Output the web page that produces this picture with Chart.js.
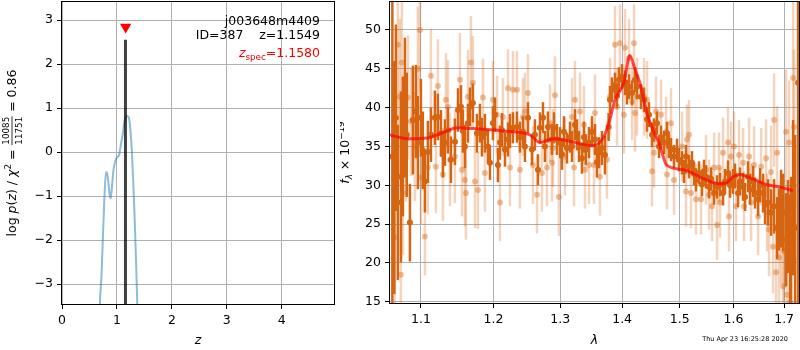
<!DOCTYPE html>
<html>
<head>
<meta charset="utf-8">
<script src="https://cdn.jsdelivr.net/npm/chart.js@4.4.1/dist/chart.umd.min.js"></script>
<style>
  html, body { margin: 0; padding: 0; background: #fff; }
  #wrap { position: relative; width: 800px; height: 350px; }
  canvas { position: absolute; top: 0; }
  #pz { left: 0; }
  #sp { left: 340px; }
</style>
</head>
<body>
<div id="wrap">
  <canvas id="pz" width="340" height="350" style="width:340px;height:350px"></canvas>
  <canvas id="sp" width="460" height="350" style="width:460px;height:350px"></canvas>
</div>
<script>
// ---- p(z) panel ----
var zGrid = [0.66, 0.69, 0.72, 0.745, 0.77, 0.80, 0.82, 0.84, 0.865, 0.885, 0.905, 0.93, 0.96, 0.99,
             1.02, 1.04, 1.06, 1.085, 1.11, 1.13, 1.155, 1.18, 1.20, 1.22, 1.245, 1.27, 1.29, 1.31,
             1.33, 1.345, 1.37, 1.40];
var logPz = [-5.0, -3.44, -2.76, -1.9, -1.09, -0.45, -0.48, -0.64, -0.95, -1.05, -0.85, -0.48, -0.25, -0.14,
             -0.10, -0.07, 0.08, 0.27, 0.45, 0.65, 0.78, 0.82, 0.81, 0.77, 0.50, 0.05, -0.50, -1.09,
             -1.8, -2.38, -3.44, -5.0];
var zBest = 1.1549;
var zBestTop = 2.55;
var zSpec = 1.1580;
var zSpecMarkY = 2.84;
var zTicks = [0, 1, 2, 3, 4];
var zTickLabels = ['0', '1', '2', '3', '4'];
var pzTicks = [-3, -2, -1, 0, 1, 2, 3];
var pzTickLabels = ['\u22123', '\u22122', '\u22121', '0', '1', '2', '3'];

// ---- spectrum panel (flux in 1e-19 units) ----
var waveDark = [
  1.063, 1.0655, 1.0675, 1.070, 1.074, 1.0765, 1.0791, 1.0815, 1.0856, 1.0895,
  1.0934, 1.096, 1.100, 1.1025, 1.1053, 1.1093, 1.1133, 1.1186, 1.1226, 1.1267,
  1.1294, 1.1321, 1.1362, 1.1403, 1.1458, 1.150, 1.1541, 1.1568, 1.1596, 1.1638,
  1.1666, 1.1707, 1.1764, 1.1806, 1.1835, 1.1877, 1.192, 1.1949, 1.1992, 1.2021,
  1.2064, 1.2093, 1.2122, 1.2166, 1.221, 1.2239, 1.2283, 1.2342, 1.2386, 1.2431,
  1.2461, 1.2506, 1.2566, 1.2611, 1.2657, 1.2687, 1.2733, 1.2763, 1.2809, 1.2871,
  1.2902, 1.2948, 1.2995, 1.3026, 1.3057, 1.3105, 1.3152, 1.3184, 1.3231, 1.3263,
  1.3294, 1.3342, 1.3374, 1.3406, 1.3455, 1.3503, 1.3552, 1.3584, 1.3617, 1.3666,
  1.3715,
  1.3775, 1.3798, 1.3831, 1.3881, 1.3914, 1.3947, 1.3998, 1.4048, 1.4082, 1.4116,
  1.4167, 1.4218, 1.4252, 1.432, 1.4372, 1.4424, 1.4458, 1.4511, 1.4545, 1.4598,
  1.4633, 1.4668, 1.4721, 1.4774, 1.4809, 1.4845, 1.4898, 1.4952, 1.4988, 1.5042,
  1.5078, 1.5114, 1.5169, 1.5223, 1.526, 1.5296, 1.5351, 1.5407, 1.5444, 1.5481,
  1.5537, 1.5575, 1.5631, 1.5687, 1.5743, 1.58, 1.5838, 1.5895, 1.5933, 1.5991,
  1.6029, 1.6087, 1.6125, 1.6183, 1.6222, 1.6281, 1.632, 1.6379, 1.6418, 1.6478,
  1.6517, 1.6577, 1.6616, 1.6676, 1.6736, 1.6796, 1.6857, 1.6897, 1.6938, 1.6979,
  1.704, 1.7081, 1.7122, 1.7143, 1.7184, 1.7225, 1.7287
];
var fluxDark = [
  33.7, 31.0, 38.7, 27.8, 31.1, 35.0, 40.0, 36.5, 25.2, 38.4,
  39.5, 35.5, 38.7, 34.5, 30.5, 34.3, 36.5, 38.7, 38.8, 36.7,
  34.0, 35.5, 37.1, 33.3, 35.6, 39.7, 40.1, 37.0, 35.0, 38.0,
  40.1, 40.6, 36.7, 38.0, 36.2, 36.7, 35.0, 32.9, 38.0, 39.1,
  32.6, 35.5, 37.1, 34.6, 35.9, 37.0, 37.4, 37.5, 36.2, 36.9,
  35.0, 38.7, 34.6, 36.5, 32.0, 37.4, 38.7, 35.0, 37.5, 35.9,
  37.4, 35.9, 35.5, 34.0, 36.9, 34.8, 36.2, 35.0, 37.8, 36.5,
  35.0, 33.5, 36.2, 34.6, 35.5, 36.9, 35.9, 33.0, 34.2, 34.8,
  33.9,
  37.5, 41.0, 42.3, 42.9, 41.5, 43.6, 44.0, 43.2, 42.0, 42.7,
  41.9, 43.6, 42.7, 41.4, 41.0, 38.5, 39.1, 36.5, 37.1, 38.0,
  35.0, 36.2, 35.5, 36.7, 35.0, 34.6, 33.7, 34.5, 33.3, 32.9,
  31.8, 33.7, 32.4, 32.9, 31.5, 30.7, 31.6, 30.1, 31.8, 31.1,
  29.8, 30.8, 29.0, 29.8, 30.1, 29.0, 30.5, 31.6, 30.0, 30.5,
  31.2, 29.0, 30.5, 29.8, 28.5, 31.1, 29.5, 30.5, 29.0, 28.2,
  30.0, 29.0, 27.5, 27.8, 26.5, 27.3, 24.5, 25.6, 27.0, 26.5,
  23.0, 24.7, 20.8, 22.1, 28.4, 24.5, 43.2
];
var errDark = [
  30, 15, 12, 10, 11, 9, 9, 8, 5, 7,
  6, 6, 5, 5, 4, 4, 3.5, 3.5, 3, 3,
  3, 3, 3, 3, 3, 2.8, 2.8, 2.8, 2.8, 2.5,
  2.5, 2.5, 2.5, 2.5, 2.5, 2.5, 2.2, 2.2, 2.2, 2.2,
  2.2, 2.2, 2.2, 2.2, 2.2, 2.2, 2, 2, 2, 2,
  2, 2, 2, 2, 2, 2, 2, 2, 2, 2,
  2, 2, 2, 2, 2, 2, 2, 2, 2, 2,
  2, 2, 2, 2, 2, 2, 2, 2, 2, 2.2,
  2.5,
  1.8, 1.8, 1.6, 1.6, 1.6, 1.6, 1.6, 1.6, 1.6, 1.6,
  1.6, 1.6, 1.6, 1.6, 1.6, 1.6, 1.6, 1.6, 1.5, 1.5,
  1.5, 1.5, 1.5, 1.5, 1.5, 1.5, 1.5, 1.5, 1.5, 1.5,
  1.5, 1.5, 1.5, 1.5, 1.5, 1.5, 1.5, 1.5, 1.5, 1.5,
  1.5, 1.5, 1.5, 1.5, 1.5, 1.6, 1.6, 1.6, 1.6, 1.6,
  1.6, 1.8, 1.8, 1.8, 1.8, 2, 2, 2, 2, 2.2,
  2.2, 2.5, 2.5, 3, 3, 3.5, 4, 4, 5, 5,
  6, 6, 8, 9, 10, 12, 40
];

var waveLight = [
  1.0662, 1.070, 1.0726, 1.0739, 1.0752, 1.0765, 1.0804, 1.083, 1.0869, 1.0921,
  1.096, 1.0987, 1.100, 1.1053, 1.1093, 1.1133, 1.1199, 1.1226, 1.1294, 1.1335,
  1.1362, 1.1389, 1.1458, 1.1527, 1.1555, 1.1596, 1.161, 1.1638, 1.168, 1.1707,
  1.1736, 1.1778, 1.1849, 1.1877, 1.1992, 1.205, 1.2093, 1.2137, 1.221, 1.2239,
  1.2283, 1.2342, 1.2386, 1.2431, 1.2461, 1.2506, 1.2581, 1.2642, 1.2718, 1.2794,
  1.284, 1.2871, 1.2886, 1.2917, 1.2979, 1.3073, 1.3184, 1.3215, 1.3231, 1.331,
  1.3374, 1.339, 1.3455, 1.3536, 1.3552, 1.3633, 1.3748, 1.3798, 1.3881, 1.3914,
  1.3964, 1.4031, 1.4048, 1.4116, 1.4167, 1.4201, 1.4218, 1.4252, 1.4372, 1.4424,
  1.4511, 1.4545, 1.458, 1.4668, 1.4756, 1.4774, 1.4845, 1.4898, 1.5042, 1.5114,
  1.5132, 1.5169, 1.5205, 1.5296, 1.5388, 1.5481, 1.5537, 1.5593, 1.5631, 1.5687,
  1.5724, 1.5743, 1.58, 1.5895, 1.5914, 1.5952, 1.601, 1.6048, 1.6106, 1.6183,
  1.6203, 1.6301, 1.634, 1.6399, 1.6478, 1.6537, 1.6636, 1.6656, 1.6696, 1.6736,
  1.6776, 1.6796, 1.6837, 1.6857, 1.6897, 1.6938, 1.6979, 1.6999, 1.704, 1.706,
  1.7101, 1.7122, 1.7184, 1.7204
];
var fluxLight = [
  23.3, 48.1, 41.4, 18.5, 45.8, 29.0, 35.9, 41.3, 38.2, 35.0,
  45.0, 50.0, 31.0, 23.4, 32.3, 44.1, 32.4, 42.8, 31.4, 41.0,
  40.1, 33.3, 33.7, 43.6, 32.0, 30.7, 29.0, 41.4, 45.8, 43.2,
  30.5, 29.4, 41.3, 31.6, 41.0, 39.1, 27.8, 38.8, 42.5, 32.3,
  42.3, 42.3, 32.0, 38.8, 39.5, 41.9, 32.6, 28.8, 31.6, 32.3,
  38.0, 32.9, 34.8, 41.6, 28.5, 33.7, 38.8, 32.3, 41.0, 39.5,
  37.8, 32.0, 32.6, 32.6, 39.3, 31.1, 33.3, 41.4, 48.1, 40.1,
  48.3, 39.1, 47.7, 46.4, 40.8, 48.3, 39.3, 41.4, 41.4, 41.0,
  31.8, 34.2, 39.5, 39.1, 36.9, 31.4, 38.0, 30.7, 35.0, 29.2,
  35.9, 36.5, 29.0, 28.2, 28.2, 32.0, 28.8, 27.3, 32.3, 24.9,
  32.3, 27.8, 34.2, 35.5, 26.0, 33.7, 35.0, 27.3, 33.9, 32.9,
  27.3, 33.7, 27.8, 32.6, 26.0, 32.4, 33.5, 26.5, 24.3, 31.7,
  22.1, 38.4, 18.8, 34.2, 20.7, 24.3, 17.0, 21.5, 36.9, 15.9,
  35.5, 14.9, 43.8, 37.5
];
var errLight = [
  10, 12, 10, 8, 10, 8, 8, 8, 7, 7,
  8, 8, 6, 5, 6, 6, 6, 6, 6, 6,
  6, 6, 6, 6, 6, 6, 6, 6, 6, 6,
  6, 5, 5, 5, 5, 5, 5, 5, 5, 5,
  5, 5, 5, 5, 5, 5, 5, 5, 5, 5,
  5, 5, 5, 5, 5, 5, 5, 5, 5, 5,
  5, 5, 5, 5, 5, 5, 5, 5, 5, 5,
  5, 5, 5, 5, 5, 5, 5, 5, 5, 5,
  4.5, 4.5, 4.5, 4.5, 4.5, 4.5, 4.5, 4.5, 4.5, 4.5,
  4.5, 4.5, 4.5, 4.5, 4.5, 4.5, 4.5, 4.5, 4.5, 4.5,
  4.5, 4.5, 4.5, 4.5, 4.5, 4.5, 4.5, 4.5, 4.5, 4.5,
  4.5, 5, 5, 5, 5, 5, 5, 5, 6, 6,
  6, 6, 6, 6, 7, 7, 7, 7, 8, 8,
  8, 8, 10, 10
];

var waveModel = [1.059, 1.083, 1.109, 1.127, 1.150, 1.171, 1.214, 1.2535, 1.2687, 1.284,
                 1.292, 1.318, 1.350, 1.367, 1.378, 1.388, 1.403, 1.413, 1.422, 1.432,
                 1.442, 1.4545, 1.463, 1.477, 1.508, 1.539, 1.572, 1.586, 1.599, 1.611,
                 1.638, 1.664, 1.690, 1.718];
var fluxModel = [36.5, 36.0, 36.1, 36.7, 37.4, 37.3, 37.0, 36.5, 35.5, 35.9,
                 36.0, 35.6, 35.1, 35.9, 38.0, 41.0, 43.2, 46.7, 44.9, 42.7,
                 39.3, 36.8, 35.5, 32.6, 32.0, 31.0, 30.2, 30.3, 31.1, 31.4,
                 30.8, 30.1, 29.8, 29.3];

var waveTicks = [1.1, 1.2, 1.3, 1.4, 1.5, 1.6, 1.7];
var waveTickLabels = ['1.1', '1.2', '1.3', '1.4', '1.5', '1.6', '1.7'];
var fluxTicks = [15, 20, 25, 30, 35, 40, 45, 50];
var fluxTickLabels = ['15', '20', '25', '30', '35', '40', '45', '50'];

// ---- shared styling ----
var FAM = '"DejaVu Sans"';
var F_MAIN = '12.5px ' + FAM;
var F_IT = 'italic 12.5px ' + FAM;
var F_SMALL = '8.75px ' + FAM;
var F_SMALL_IT = 'italic 8.75px ' + FAM;
var GRID = '#b0b0b0';
var ORANGE = 'rgb(214,100,16)';

Chart.defaults.font.family = 'DejaVu Sans';
Chart.defaults.font.size = 12.5;
Chart.defaults.color = '#000';

function zipPoints(xs, ys) {
    return xs.map(function (x, i) { return { x: x, y: ys[i] }; });
}

function fixedTicks(values) {
    return function (scale) {
        scale.ticks = values.map(function (v) { return { value: v }; });
    };
}

function axis(opts) {
    return {
        type: opts.type || 'linear',
        min: opts.min, max: opts.max,
        bounds: 'data',
        afterBuildTicks: fixedTicks(opts.ticks),
        afterFit: function (scale) {
            if (opts.size.w) scale.width = opts.size.w;
            if (opts.size.h) scale.height = opts.size.h;
            // keep the plot box where it is: no room reserved for edge labels
            scale.paddingTop = 0; scale.paddingBottom = 0;
            scale.paddingLeft = 0; scale.paddingRight = 0;
        },
        ticks: {
            autoSkip: false, maxRotation: 0, padding: 4, color: '#000',
            font: { size: 12.5 },
            callback: function (v, i) { return opts.labels[i]; }
        },
        grid: { color: GRID, lineWidth: 1, tickColor: '#000', tickLength: 5, tickWidth: 1 },
        border: { display: false }
    };
}

// text made of runs of different fonts / offsets (mathtext-like labels)
function runWidth(ctx, r) {
    ctx.font = r.f;
    if (r.frac) {
        return Math.max(ctx.measureText(r.frac[0]).width, ctx.measureText(r.frac[1]).width) + 2;
    }
    return ctx.measureText(r.t).width;
}

function runsWidth(ctx, runs) {
    return runs.reduce(function (s, r) { return s + runWidth(ctx, r); }, 0);
}

function drawRuns(ctx, runs, x0, y0, rotate, align) {
    ctx.save();
    ctx.translate(x0, y0);
    if (rotate) ctx.rotate(-Math.PI / 2);
    var total = runsWidth(ctx, runs);
    var x = align === 'right' ? -total : -total / 2;
    ctx.textBaseline = 'alphabetic';
    runs.forEach(function (r) {
        var w = runWidth(ctx, r);
        ctx.font = r.f;
        ctx.fillStyle = r.c || '#000';
        if (r.frac) {
            ctx.textAlign = 'center';
            ctx.fillText(r.frac[0], x + w / 2, -7.5);
            ctx.fillText(r.frac[1], x + w / 2, 5.5);
            ctx.fillRect(x + 0.5, -4.4, w - 1, 0.8);
        } else {
            ctx.textAlign = 'left';
            ctx.fillText(r.t, x, r.dy || 0);
        }
        x += w;
    });
    ctx.restore();
}

// black box round the plot area, on top of everything
var frame = {
    id: 'frame',
    afterDatasetsDraw: function (chart) {
        var a = chart.chartArea, ctx = chart.ctx;
        ctx.save();
        ctx.strokeStyle = '#000';
        ctx.lineWidth = 1;
        ctx.strokeRect(Math.round(a.left) - 0.5, Math.round(a.top) - 0.5,
                       Math.round(a.right - a.left) + 1, Math.round(a.bottom - a.top) + 1);
        ctx.restore();
    }
};

// vertical error bars drawn just before each dataset's own points
var errorBars = {
    id: 'errorBars',
    beforeDatasetDraw: function (chart, args) {
        var ds = chart.data.datasets[args.index];
        if (!ds.errors) return;
        var ctx = chart.ctx, a = chart.chartArea;
        var xs = chart.scales.x, ys = chart.scales.y;
        ctx.save();
        ctx.beginPath();
        ctx.rect(a.left, a.top, a.right - a.left, a.bottom - a.top);
        ctx.clip();
        ctx.strokeStyle = ds.barColor;
        ctx.lineWidth = ds.barWidth;
        ds.data.forEach(function (p, i) {
            var px = xs.getPixelForValue(p.x);
            ctx.beginPath();
            ctx.moveTo(px, ys.getPixelForValue(p.y - ds.errors[i]));
            ctx.lineTo(px, ys.getPixelForValue(p.y + ds.errors[i]));
            ctx.stroke();
        });
        ctx.restore();
    }
};

var pzLabels = {
    id: 'pzLabels',
    afterDraw: function (chart) {
        var ctx = chart.ctx, a = chart.chartArea;
        drawRuns(ctx, [
            { t: 'log ', f: F_MAIN }, { t: 'p', f: F_IT }, { t: '(', f: F_MAIN }, { t: 'z', f: F_IT },
            { t: ') / ', f: F_MAIN }, { t: '\u03c7', f: F_IT }, { t: '2', f: F_SMALL, dy: -5 },
            { t: ' = ', f: F_MAIN }, { frac: ['10085', '11751'], f: F_SMALL }, { t: ' = 0.86', f: F_MAIN }
        ], 16, (a.top + a.bottom) / 2, true);
        drawRuns(ctx, [{ t: 'z', f: F_IT }], (a.left + a.right) / 2, 344, false);
        drawRuns(ctx, [{ t: 'j003648m4409', f: F_MAIN }], 320, 25, false, 'right');
        drawRuns(ctx, [{ t: 'ID=387    z=1.1549', f: F_MAIN }], 320, 39, false, 'right');
        drawRuns(ctx, [
            { t: 'z', f: F_IT, c: '#ff0000' }, { t: 'spec', f: F_SMALL, dy: 3, c: '#ff0000' },
            { t: '=1.1580', f: F_MAIN, c: '#ff0000' }
        ], 320, 57, false, 'right');
    }
};

var spLabels = {
    id: 'spLabels',
    afterDraw: function (chart) {
        var ctx = chart.ctx, a = chart.chartArea;
        drawRuns(ctx, [
            { t: 'f', f: F_IT }, { t: '\u03bb', f: F_SMALL_IT, dy: 3 },
            { t: ' \u00d7 10', f: F_MAIN }, { t: '\u221219', f: F_SMALL, dy: -5 }
        ], 9, (a.top + a.bottom) / 2, true);
        drawRuns(ctx, [{ t: '\u03bb', f: F_IT }], (a.left + a.right) / 2, 344, false);
        ctx.save();
        ctx.font = '6.5px ' + FAM;
        ctx.fillStyle = '#000';
        ctx.textAlign = 'right';
        ctx.fillText('Thu Apr 23 16:25:28 2020', 448, 341);
        ctx.restore();
    }
};

new Chart(document.getElementById('pz'), {
    type: 'scatter',
    data: {
        datasets: [
            { data: [{ x: zSpec, y: zSpecMarkY }], pointStyle: 'triangle', rotation: 180,
              pointRadius: 6.5, backgroundColor: '#ff0000', borderWidth: 0, order: 0 },
            { data: [{ x: zBest, y: -4 }, { x: zBest, y: zBestTop }], showLine: true,
              borderColor: 'rgba(0,0,0,0.75)', borderWidth: 3, pointRadius: 0, clip: 0, order: 1 },
            { data: zipPoints(zGrid, logPz), showLine: true, borderColor: 'rgba(31,119,180,0.5)',
              borderWidth: 2, pointRadius: 0, cubicInterpolationMode: 'monotone', clip: 0, order: 2 }
        ]
    },
    options: {
        responsive: false, animation: false,
        layout: { autoPadding: false, padding: { left: 0, right: 6, top: 2, bottom: 0 } },
        plugins: { legend: { display: false }, tooltip: { enabled: false } },
        scales: {
            x: axis({ min: 0, max: 4.95, ticks: zTicks, labels: zTickLabels, size: { h: 46 } }),
            y: axis({ min: -3.45, max: 3.41, ticks: pzTicks, labels: pzTickLabels, size: { w: 62 } })
        }
    },
    plugins: [frame, pzLabels]
});

new Chart(document.getElementById('sp'), {
    type: 'scatter',
    data: {
        datasets: [
            { type: 'line', data: zipPoints(waveModel, fluxModel), borderColor: 'rgba(255,0,0,0.7)',
              borderWidth: 3, pointRadius: 0, cubicInterpolationMode: 'monotone', clip: 0, order: 0 },
            { data: zipPoints(waveDark, fluxDark), errors: errDark, barColor: ORANGE, barWidth: 2.5,
              backgroundColor: ORANGE, pointRadius: 3, borderWidth: 0, clip: 0, order: 1 },
            { data: zipPoints(waveLight, fluxLight), errors: errLight, barColor: 'rgba(214,100,16,0.28)',
              barWidth: 2.5, backgroundColor: 'rgba(214,100,16,0.4)', pointRadius: 3, borderWidth: 0,
              clip: 0, order: 2 }
        ]
    },
    options: {
        responsive: false, animation: false,
        layout: { autoPadding: false, padding: { left: 0, right: 1, top: 2, bottom: 0 } },
        plugins: { legend: { display: false }, tooltip: { enabled: false } },
        scales: {
            x: axis({ type: 'logarithmic', min: 1.06, max: 1.7306, ticks: waveTicks,
                      labels: waveTickLabels, size: { h: 47 } }),
            y: axis({ min: 14.85, max: 53.6, ticks: fluxTicks, labels: fluxTickLabels, size: { w: 50 } })
        }
    },
    plugins: [errorBars, frame, spLabels]
});
</script>
</body>
</html>
